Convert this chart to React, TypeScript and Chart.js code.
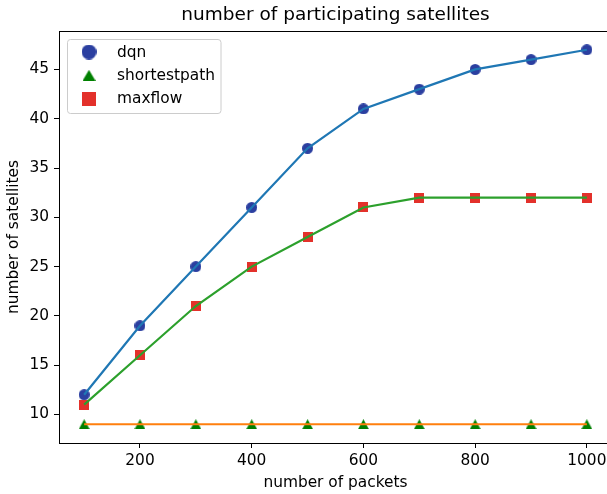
import React, { useEffect, useRef } from 'react';
import { Chart, registerables } from 'chart.js';

Chart.register(...registerables);

// ---- data ----
const packets = [100, 200, 300, 400, 500, 600, 700, 800, 900, 1000];
const dqn = [12, 19, 25, 31, 37, 41, 43, 45, 46, 47];
const shortestpath = [9, 9, 9, 9, 9, 9, 9, 9, 9, 9];
const maxflow = [11, 16, 21, 25, 28, 31, 32, 32, 32, 32];
const seriesNames = ['dqn', 'shortestpath', 'maxflow'];
const xTicks = [200, 400, 600, 800, 1000];
const yTicks = [10, 15, 20, 25, 30, 35, 40, 45];
const chartTitle = 'number of participating satellites';
const xTitle = 'number of packets';
const yTitle = 'number of satellites';

// ---- styles ----
const FONT = '"DejaVu Sans", "Liberation Sans", sans-serif';
const FS = 15.4;
const TITLE_FS = 18.5;
const lineColors = ['#1f77b4', '#ff7f0e', '#2ca02c'];
const markerColors = ['#2b3fa0', '#008000', '#e3312b'];
const markerShapes = ['circle', 'triangle', 'square'];

function makeMarker(shape: string, w: number, h: number, color: string): HTMLCanvasElement {
  const c = document.createElement('canvas');
  c.width = w;
  c.height = h;
  const g = c.getContext('2d')!;
  g.fillStyle = color;
  g.beginPath();
  if (shape === 'circle') {
    g.arc(w / 2, h / 2, Math.min(w, h) / 2, 0, Math.PI * 2);
  } else if (shape === 'triangle') {
    g.moveTo(w / 2, 0);
    g.lineTo(w, h);
    g.lineTo(0, h);
    g.closePath();
  } else {
    g.rect(0, 0, w, h);
  }
  g.fill();
  return c;
}

const chartMarkerSize: Record<string, [number, number]> = {
  circle: [11, 11],
  triangle: [11, 10],
  square: [10, 10],
};
const legendMarkerSize: Record<string, [number, number]> = {
  circle: [15, 15],
  triangle: [13, 11],
  square: [14, 14],
};

export default function App() {
  const ref = useRef<HTMLCanvasElement | null>(null);

  useEffect(() => {
    if (!ref.current) return;
    const series = [dqn, shortestpath, maxflow];
    const chartMarkers = markerShapes.map((s, i) =>
      makeMarker(s, chartMarkerSize[s][0], chartMarkerSize[s][1], markerColors[i])
    );
    const legendMarkers = markerShapes.map((s, i) =>
      makeMarker(s, legendMarkerSize[s][0], legendMarkerSize[s][1], markerColors[i])
    );

    const lineSets = series.map((vals, i) => ({
      label: seriesNames[i] + '-line',
      data: packets.map((x, j) => ({ x, y: vals[j] })),
      borderColor: lineColors[i],
      backgroundColor: lineColors[i],
      borderWidth: 2.2,
      pointRadius: 0,
      fill: false,
      tension: 0,
      order: 0,
    }));
    const markerSets = series.map((vals, i) => ({
      label: seriesNames[i],
      data: packets.map((x, j) => ({ x, y: vals[j] })),
      showLine: false,
      pointStyle: chartMarkers[i],
      pointRadius: 6,
      borderColor: markerColors[i],
      backgroundColor: markerColors[i],
      order: 1,
    }));

    const decor = {
      id: 'decor',
      afterDraw(chart: any) {
        const { ctx, chartArea: a } = chart;
        ctx.save();
        // top spine (the right spine falls outside the visible frame)
        ctx.strokeStyle = '#000';
        ctx.lineWidth = 1;
        ctx.beginPath();
        ctx.moveTo(Math.round(a.left), Math.round(a.top) + 0.5);
        ctx.lineTo(Math.round(a.right) + 1, Math.round(a.top) + 0.5);
        ctx.stroke();

        // title
        ctx.fillStyle = '#000';
        ctx.font = `${TITLE_FS}px ${FONT}`;
        ctx.textAlign = 'center';
        ctx.textBaseline = 'alphabetic';
        ctx.fillText(chartTitle, (a.left + a.right) / 2, 19.5);

        // legend
        const bx = 67.5, by = 39.5, bw = 153.5, bh = 74, r = 3;
        ctx.beginPath();
        ctx.moveTo(bx + r, by);
        ctx.lineTo(bx + bw - r, by);
        ctx.arcTo(bx + bw, by, bx + bw, by + r, r);
        ctx.lineTo(bx + bw, by + bh - r);
        ctx.arcTo(bx + bw, by + bh, bx + bw - r, by + bh, r);
        ctx.lineTo(bx + r, by + bh);
        ctx.arcTo(bx, by + bh, bx, by + bh - r, r);
        ctx.lineTo(bx, by + r);
        ctx.arcTo(bx, by, bx + r, by, r);
        ctx.closePath();
        ctx.fillStyle = 'rgba(255,255,255,0.8)';
        ctx.fill();
        ctx.strokeStyle = '#cccccc';
        ctx.lineWidth = 1;
        ctx.stroke();

        const rowY = [52, 75.3, 98.6];
        ctx.font = `${FS}px ${FONT}`;
        ctx.textAlign = 'left';
        ctx.textBaseline = 'middle';
        ctx.fillStyle = '#000';
        seriesNames.forEach((name, i) => {
          const m = legendMarkers[i];
          ctx.drawImage(m, 89 - m.width / 2, rowY[i] - m.height / 2);
          ctx.fillText(name, 117, rowY[i] + 0.5);
        });
        ctx.restore();
      },
    };

    const chart = new Chart(ref.current, {
      type: 'line',
      data: { datasets: [...lineSets, ...markerSets] as any },
      options: {
        responsive: false,
        devicePixelRatio: 1,
        animation: false,
        events: [],
        layout: { autoPadding: false, padding: { left: 0, right: 8, top: 31, bottom: 0 } },
        plugins: {
          legend: { display: false },
          title: { display: false },
          tooltip: { enabled: false },
        },
        scales: {
          x: {
            type: 'linear',
            min: 55,
            max: 1045,
            afterBuildTicks: (s: any) => {
              s.ticks = xTicks.map((v) => ({ value: v }));
            },
            afterFit: (s: any) => {
              s.height = 51;
              s.paddingLeft = 0;
              s.paddingRight = 0;
            },
            ticks: {
              color: '#000',
              font: { family: FONT, size: FS },
              padding: 4,
              maxRotation: 0,
              autoSkip: false,
              callback: (v: any) => String(v),
            },
            grid: {
              drawOnChartArea: false,
              drawTicks: true,
              tickLength: 5,
              color: '#000',
              lineWidth: 1,
            },
            border: { display: true, color: '#000', width: 1 },
            title: {
              display: true,
              text: xTitle,
              color: '#000',
              font: { family: FONT, size: FS },
              padding: { top: 0, bottom: 2 },
            },
          },
          y: {
            type: 'linear',
            min: 7.1,
            max: 48.9,
            afterBuildTicks: (s: any) => {
              s.ticks = yTicks.map((v) => ({ value: v }));
            },
            afterFit: (s: any) => {
              s.width = 59;
              s.paddingTop = 0;
              s.paddingBottom = 0;
            },
            ticks: {
              color: '#000',
              font: { family: FONT, size: FS },
              padding: 5,
              autoSkip: false,
              callback: (v: any) => String(v),
            },
            grid: {
              drawOnChartArea: false,
              drawTicks: true,
              tickLength: 5,
              color: '#000',
              lineWidth: 1,
            },
            border: { display: true, color: '#000', width: 1 },
            title: {
              display: true,
              text: yTitle,
              color: '#000',
              font: { family: FONT, size: FS },
              padding: { top: 4.5, bottom: 0 },
            },
          },
        },
      },
      plugins: [decor],
    } as any);

    return () => chart.destroy();
  }, []);

  return (
    <div
      style={{
        position: 'fixed',
        left: 0,
        top: 0,
        width: 607,
        height: 494,
        overflow: 'hidden',
        background: '#fff',
      }}
    >
      <canvas ref={ref} width={620} height={494} style={{ display: 'block' }} />
    </div>
  );
}
